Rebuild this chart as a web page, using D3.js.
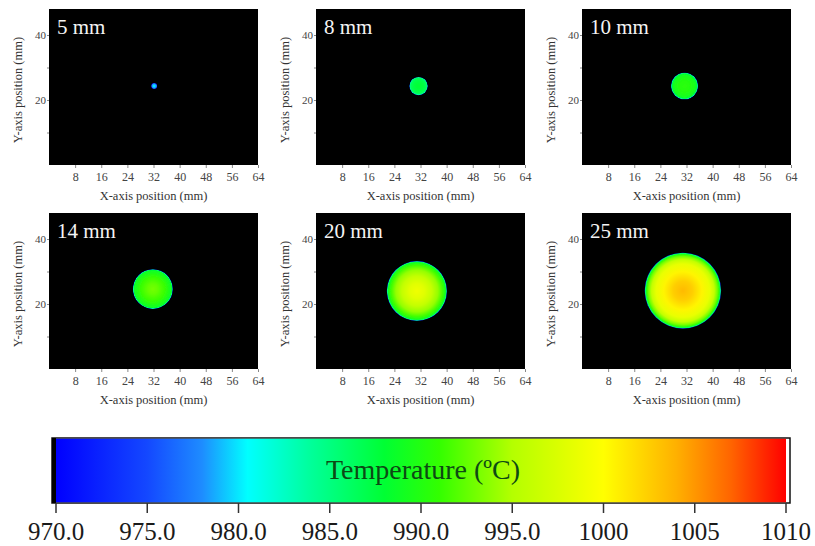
<!DOCTYPE html>
<html><head><meta charset="utf-8">
<script src="https://cdn.jsdelivr.net/npm/d3@7"></script>
<style>
body{margin:0;background:#fff}
svg{display:block}
text{font-family:"Liberation Serif","Times New Roman",serif}
</style>
</head><body>
<svg id="c" width="815" height="546"></svg>
<script>
// ---------- data ----------
const panelLabels = ["5 mm", "8 mm", "10 mm", "14 mm", "20 mm", "25 mm"];
const poolCenterX = [32.2, 31.4, 31.4, 31.8, 30.9, 30.9];   // mm
const poolCenterY = [24.3, 24.3, 24.3, 24.6, 24.0, 24.1];   // mm
const poolRadius  = [0.9, 2.8, 4.1, 6.1, 9.2, 11.7];        // mm (visible >970 °C zone)
// radial temperature profile (fraction of pool radius -> temperature °C)
const profileFrac = [0, 0.25, 0.5, 0.7, 0.82, 0.9, 0.95, 0.98, 1.0];
const profile5  = [980.5, 980.0, 979.0, 978.0, 977.0, 976.0, 975.0, 973.0, 971.0];
const profile8  = [988.0, 987.8, 987.5, 987.0, 986.5, 985.5, 983.5, 980.0, 973.0];
const profile10 = [990.5, 990.3, 990.0, 989.5, 989.0, 988.0, 986.0, 982.0, 973.0];
const profile14 = [993.0, 992.5, 991.5, 990.5, 989.5, 989.0, 988.0, 983.0, 973.0];
const profile20 = [999.0, 998.0, 996.0, 994.0, 992.0, 990.5, 989.0, 985.0, 973.0];
const profile25 = [1003.5, 1002.5, 1000.5, 998.5, 996.0, 993.0, 990.5, 986.0, 973.0];
const profiles = [profile5, profile8, profile10, profile14, profile20, profile25];

const xTicks = [8, 16, 24, 32, 40, 48, 56, 64];
const yTicks = [10, 20, 30, 40];
const yTickLabels = [20, 40];

// colour map of the temperature bar
const cmapT = [970, 975, 978, 980.5, 984, 988, 991, 995, 1000, 1004, 1007, 1010];
const cmapC = ["#0000ff", "#1448ff", "#1e8cff", "#00ffff", "#00ff99", "#00ff33",
               "#33ff00", "#b4ff00", "#ffff00", "#ffb000", "#ff6400", "#ff0000"];
const barTicks = [970, 975, 980, 985, 990, 995, 1000, 1005, 1010];
const barTickLabels = ["970.0", "975.0", "980.0", "985.0", "990.0", "995.0", "1000", "1005", "1010"];
const barTitle = "Temperature (ºC)";
const xTitle = "X-axis position (mm)";
const yTitle = "Y-axis position (mm)";

// ---------- layout ----------
const colLeft = [49, 316, 582];
const rowTop = [9, 213];
const pw = 209, ph = 156;

const svg = d3.select("#c");
const defs = svg.append("defs");
const color = d3.scaleLinear().domain(cmapT).range(cmapC).interpolate(d3.interpolateRgb).clamp(true);

defs.append("filter").attr("id", "soft").attr("x", "-20%").attr("y", "-20%")
  .attr("width", "140%").attr("height", "140%")
  .append("feGaussianBlur").attr("stdDeviation", 0.7);

const x = d3.scaleLinear().domain([0, 64]).range([0, pw]);
const y = d3.scaleLinear().domain([0, 48]).range([ph, 0]);

panelLabels.forEach((lab, i) => {
  const gx = colLeft[i % 3], gy = rowTop[Math.floor(i / 3)];
  const g = svg.append("g").attr("transform", `translate(${gx},${gy})`);

  const cid = "clip" + i;
  defs.append("clipPath").attr("id", cid).append("rect").attr("width", pw).attr("height", ph);
  g.append("rect").attr("width", pw).attr("height", ph).attr("fill", "#000");

  const grad = defs.append("radialGradient").attr("id", "rg" + i);
  grad.selectAll("stop").data(profileFrac).join("stop")
    .attr("offset", d => d)
    .attr("stop-color", (d, k) => color(profiles[i][k]));

  const pool = g.append("g").attr("clip-path", `url(#${cid})`);
  pool.append("ellipse")
    .attr("cx", x(poolCenterX[i]))
    .attr("cy", y(poolCenterY[i]))
    .attr("rx", x(poolRadius[i]) - x(0))
    .attr("ry", y(0) - y(poolRadius[i]))
    .attr("fill", `url(#rg${i})`)
    .attr("filter", "url(#soft)");

  // axes
  const ax = g.append("g").attr("transform", `translate(0,${ph})`)
    .call(d3.axisBottom(x).tickValues(xTicks).tickSize(3).tickPadding(4));
  ax.select(".domain").remove();
  ax.selectAll("line").attr("stroke", "#888");
  ax.selectAll("text").attr("font-size", 12).attr("fill", "#444")
    .style("font-family", '"Liberation Serif","Times New Roman",serif');

  const ay = g.append("g")
    .call(d3.axisLeft(y).tickValues(yTicks).tickSize(2).tickPadding(1)
      .tickFormat(d => yTickLabels.includes(d) ? d : ""));
  ay.select(".domain").remove();
  ay.selectAll("line").attr("stroke", "#888");
  ay.selectAll("text").attr("font-size", 11).attr("fill", "#444")
    .style("font-family", '"Liberation Serif","Times New Roman",serif');

  g.append("text").attr("x", pw / 2).attr("y", ph + 35).attr("text-anchor", "middle")
    .attr("font-size", 12.5).attr("fill", "#333").text(xTitle);
  g.append("text").attr("transform", `translate(-27,${ph / 2 + 3}) rotate(-90)`)
    .attr("text-anchor", "middle").attr("font-size", 12.5).attr("fill", "#333").text(yTitle);

  g.append("text").attr("x", 8).attr("y", 25).attr("font-size", 21)
    .attr("fill", "#f4f4f4").text(lab);
});

// ---------- colour bar ----------
const bx = d3.scaleLinear().domain([970, 1010]).range([56, 786]);
const barTop = 438, barBot = 503;

const lg = defs.append("linearGradient").attr("id", "bar")
  .attr("x1", 0).attr("x2", 1).attr("y1", 0).attr("y2", 0);
lg.selectAll("stop").data(cmapT).join("stop")
  .attr("offset", d => (bx(d) - bx(970)) / (bx(1010) - bx(970)))
  .attr("stop-color", d => color(d));

svg.append("rect").attr("x", bx(970) - 4).attr("y", barTop)
  .attr("width", bx(1010) - bx(970) + 8).attr("height", barBot - barTop)
  .attr("fill", "#fff").attr("stroke", "#111").attr("stroke-width", 1.5);
svg.append("rect").attr("x", bx(970) - 4).attr("y", barTop)
  .attr("width", 4).attr("height", barBot - barTop).attr("fill", "#000");
svg.append("rect").attr("x", bx(970)).attr("y", barTop + 0.75)
  .attr("width", bx(1010) - bx(970)).attr("height", barBot - barTop - 1.5)
  .attr("fill", "url(#bar)");

svg.append("g").selectAll("line").data(barTicks).join("line")
  .attr("x1", d => bx(d)).attr("x2", d => bx(d))
  .attr("y1", barBot).attr("y2", barBot + 10)
  .attr("stroke", "#333").attr("stroke-width", 1.5);
svg.append("g").selectAll("text").data(barTicks).join("text")
  .attr("x", d => bx(d)).attr("y", 540).attr("text-anchor", "middle")
  .attr("font-size", 25).attr("fill", "#1a1a1a")
  .text((d, i) => barTickLabels[i]);

svg.append("text").attr("x", 423).attr("y", 479).attr("text-anchor", "middle")
  .attr("font-size", 28).attr("fill", "#0d4a14").text(barTitle);
</script>
</body></html>
